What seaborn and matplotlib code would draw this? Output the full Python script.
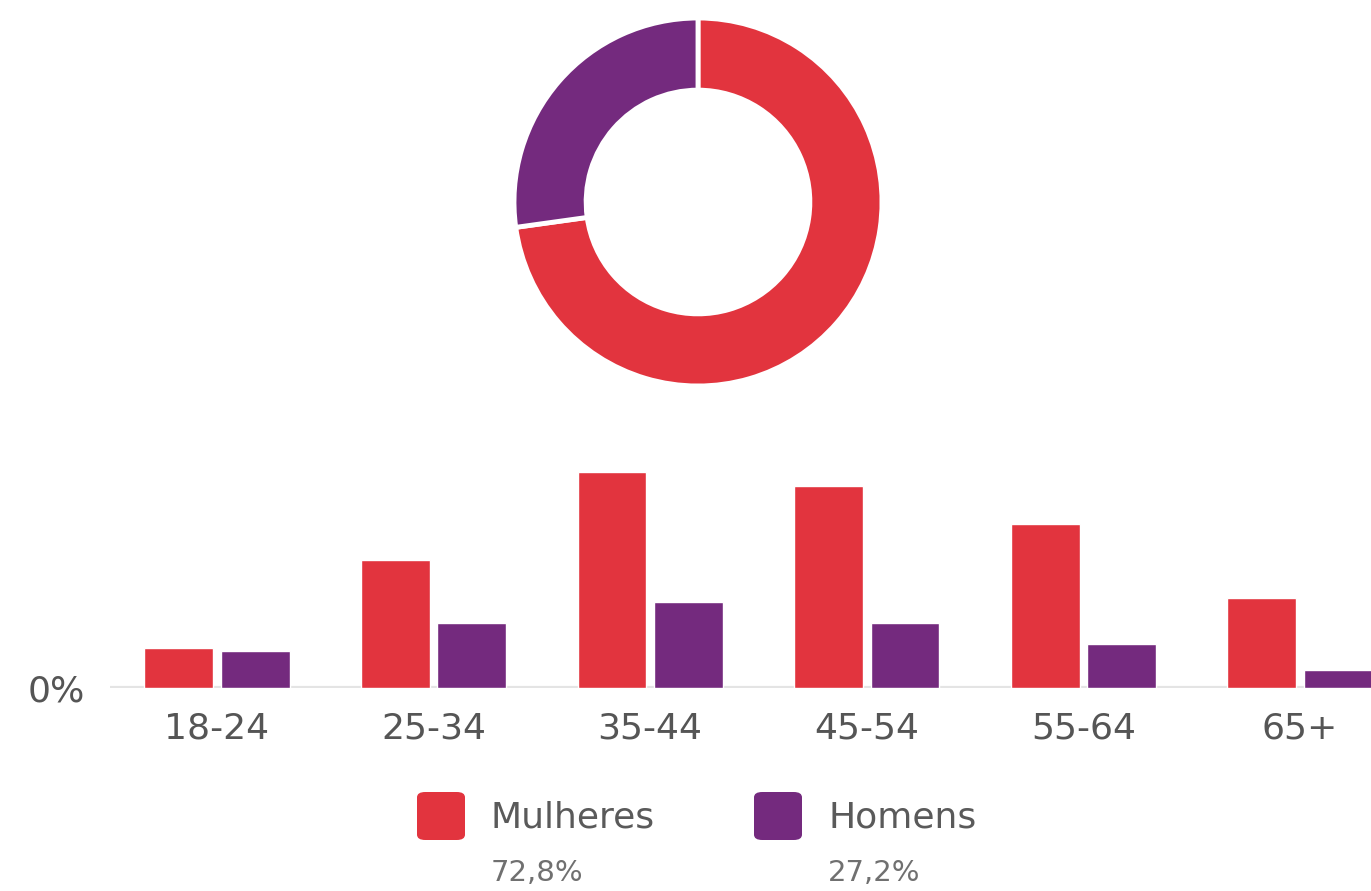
import pandas as pd
import matplotlib.pyplot as plt
import seaborn as sns
from matplotlib.patches import FancyBboxPatch

# Data (percent of all people)
faixas = ['18-24', '25-34', '35-44', '45-54', '55-64', '65+']
mulheres = [3.5, 11.1, 18.7, 17.5, 14.2, 7.8]
homens = [3.2, 5.6, 7.4, 5.6, 3.8, 1.6]
sexos = ['Mulheres', 'Homens']
totais = [72.8, 27.2]
totais_txt = ['72,8%', '27,2%']
cores = ['#E2343E', '#742A7E']

sns.set_theme(style='white')
plt.rcParams['font.family'] = ['DejaVu Sans']

W, H = 1371, 891
fig = plt.figure(figsize=(W / 100, H / 100), dpi=100)
fig.patch.set_facecolor('white')


def px_axes(left, top, width, height):
    # axes placed by pixel box (top measured from the top of the image)
    return fig.add_axes([left / W, 1 - (top + height) / H, width / W, height / H])


# Donut
ax_pie = px_axes(514, 18, 368, 368)
ax_pie.pie(totais, colors=cores, startangle=90, counterclock=False, radius=1,
           wedgeprops=dict(width=0.392, edgecolor='white', linewidth=3.5))
ax_pie.set_xlim(-1, 1)
ax_pie.set_ylim(-1, 1)
ax_pie.set_aspect('equal')
ax_pie.axis('off')

# Bars
df = pd.DataFrame({
    'faixa': faixas * 2,
    'pct': mulheres + homens,
    'sexo': [sexos[0]] * len(faixas) + [sexos[1]] * len(faixas),
})

ax = px_axes(110, 430, W - 110, 258)
ax.axhline(0, color='#e4e4e4', lw=3, zorder=0)
sns.barplot(data=df, x='faixa', y='pct', hue='sexo', hue_order=sexos,
            palette=cores, width=0.706, gap=0.1, saturation=1,
            legend=False, ax=ax, zorder=2)
ax.set_xlim(-0.494, 5.328)
ax.set_ylim(0, 258 / 11.56)
ax.set_yticks([0])
ax.set_yticklabels(['0%'])
ax.set_xlabel('')
ax.set_ylabel('')
ax.tick_params(axis='y', length=0, pad=18, labelsize=26, labelcolor='#555555')
ax.tick_params(axis='x', length=0, pad=17, labelsize=26, labelcolor='#555555')
for s in ax.spines.values():
    s.set_visible(False)
ax.set_facecolor('none')

# Legend with totals
leg_x = [417, 754]
for i, nome in enumerate(sexos):
    x0 = leg_x[i]
    fig.patches.append(FancyBboxPatch(
        (x0 / W, 1 - 840 / H), 48 / W, 48 / H,
        boxstyle='round,pad=0,rounding_size=0.006',
        transform=fig.transFigure, facecolor=cores[i], edgecolor='none'))
    fig.text((x0 + 74) / W, 1 - 828 / H, nome, fontsize=26, color='#5a5a5a',
             ha='left', va='baseline')
    fig.text((x0 + 74) / W, 1 - 881 / H, totais_txt[i], fontsize=21,
             color='#707070', ha='left', va='baseline')

plt.savefig('out.png', dpi=100, facecolor='white')
plt.close()
